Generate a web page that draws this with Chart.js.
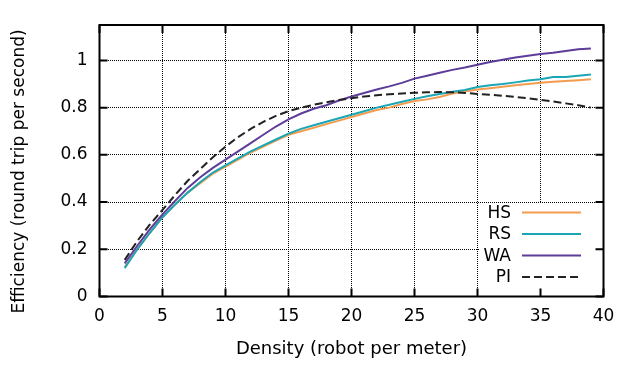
<!DOCTYPE html>
<html>
<head>
<meta charset="utf-8">
<script src="https://cdn.jsdelivr.net/npm/chart.js@4"></script>
<style>
  html, body { margin: 0; padding: 0; background: #fff; }
  #wrap { width: 618px; height: 365px; }
</style>
</head>
<body>
<div id="wrap"><canvas id="chartCanvas" width="618" height="365"></canvas></div>
<script>
const density = [2, 3, 4, 5, 6, 7, 8, 9, 10, 11, 12, 13, 14, 15, 16, 17, 18, 19, 20,
  21, 22, 23, 24, 25, 26, 27, 28, 29, 30, 31, 32, 33, 34, 35, 36, 37, 38, 39];

const hs = [0.125, 0.20, 0.27, 0.335, 0.39, 0.44, 0.48, 0.52, 0.55, 0.58, 0.61, 0.635, 0.66, 0.685,
  0.70, 0.715, 0.73, 0.745, 0.76, 0.775, 0.79, 0.80, 0.815, 0.828, 0.835, 0.845, 0.86, 0.868,
  0.877, 0.882, 0.888, 0.895, 0.90, 0.905, 0.91, 0.913, 0.916, 0.92];
const rs = [0.12, 0.20, 0.27, 0.336, 0.39, 0.44, 0.485, 0.525, 0.555, 0.585, 0.615, 0.64, 0.665, 0.69,
  0.71, 0.725, 0.74, 0.755, 0.77, 0.785, 0.80, 0.812, 0.825, 0.837, 0.848, 0.858, 0.867, 0.875,
  0.887, 0.895, 0.90, 0.907, 0.915, 0.92, 0.93, 0.93, 0.935, 0.94];
const wa = [0.14, 0.215, 0.285, 0.348, 0.405, 0.46, 0.505, 0.545, 0.58, 0.615, 0.65, 0.685, 0.72, 0.75,
  0.775, 0.795, 0.81, 0.83, 0.847, 0.862, 0.877, 0.89, 0.905, 0.923, 0.935, 0.948, 0.96, 0.97,
  0.982, 0.993, 1.003, 1.012, 1.02, 1.027, 1.032, 1.04, 1.047, 1.05];
const pi = [0.155, 0.235, 0.305, 0.367, 0.43, 0.49, 0.54, 0.59, 0.635, 0.675, 0.71, 0.74, 0.765, 0.785,
  0.80, 0.812, 0.823, 0.832, 0.84, 0.847, 0.852, 0.857, 0.86, 0.863, 0.865, 0.866, 0.865, 0.862,
  0.858, 0.855, 0.85, 0.845, 0.84, 0.833, 0.826, 0.818, 0.81, 0.80];

const xTicks = [0, 5, 10, 15, 20, 25, 30, 35, 40];
const xTickLabels = ['0', '5', '10', '15', '20', '25', '30', '35', '40'];
const yTicks = [0, 0.2, 0.4, 0.6, 0.8, 1];
const yTickLabels = ['0', '0.2', '0.4', '0.6', '0.8', '1'];

const FONT = 'DejaVu Sans';
const yTitle = 'Efficiency (round trip per second)';

function pts(ys) {
  return density.map((x, i) => ({ x: x, y: ys[i] }));
}

// key box, drawn over the grid like gnuplot's opaque key
const keyPlugin = {
  id: 'key',
  beforeDatasetsDraw(chart) {
    const ctx = chart.ctx;
    const a = chart.chartArea;
    ctx.save();
    ctx.fillStyle = '#fff';
    ctx.fillRect(479, 203, a.right - 479, a.bottom - 203);
    ctx.restore();
  },
  afterDatasetsDraw(chart) {
    const ctx = chart.ctx;
    ctx.save();
    ctx.font = '17px "' + FONT + '"';
    ctx.textAlign = 'right';
    ctx.textBaseline = 'middle';
    chart.data.datasets.forEach((ds, i) => {
      const y = 212.5 + i * 21.5;
      ctx.fillStyle = '#000';
      ctx.fillText(ds.label, 511, y + 1);
      ctx.strokeStyle = ds.borderColor;
      ctx.lineWidth = 2;
      ctx.setLineDash(ds.borderDash || []);
      ctx.beginPath();
      ctx.moveTo(522, y);
      ctx.lineTo(581, y);
      ctx.stroke();
    });
    ctx.restore();
  },
  afterDraw(chart) {
    const ctx = chart.ctx;
    const a = chart.chartArea;
    const xs = chart.scales.x, ys = chart.scales.y;
    const len = 8;
    ctx.save();
    ctx.strokeStyle = '#000';
    ctx.lineWidth = 2;
    ctx.beginPath();
    xTicks.forEach(v => {
      const px = xs.getPixelForValue(v);
      ctx.moveTo(px, a.bottom); ctx.lineTo(px, a.bottom - len);
      ctx.moveTo(px, a.top); ctx.lineTo(px, a.top + len);
    });
    yTicks.forEach(v => {
      const py = ys.getPixelForValue(v);
      ctx.moveTo(a.left, py); ctx.lineTo(a.left + len, py);
      ctx.moveTo(a.right, py); ctx.lineTo(a.right - len, py);
    });
    ctx.stroke();
    ctx.strokeRect(a.left, a.top, a.right - a.left, a.bottom - a.top);

    // y axis title, a little below the plot centre as in the original
    ctx.translate(19.5, 171.5);
    ctx.rotate(-Math.PI / 2);
    ctx.font = '17px "' + FONT + '"';
    ctx.fillStyle = '#000';
    ctx.textAlign = 'center';
    ctx.textBaseline = 'middle';
    ctx.fillText(yTitle, 0, 0);
    ctx.restore();
  }
};

const ctx = document.getElementById('chartCanvas').getContext('2d');
const chart = new Chart(ctx, {
  type: 'line',
  data: {
    datasets: [
      { label: 'HS', data: pts(hs), borderColor: '#f39c4f', order: 4 },
      { label: 'RS', data: pts(rs), borderColor: '#1ba6b6', order: 3 },
      { label: 'WA', data: pts(wa), borderColor: '#5e3c99', order: 2 },
      { label: 'PI', data: pts(pi), borderColor: '#222222', borderDash: [8, 4], order: 1 }
    ]
  },
  options: {
    responsive: false,
    animation: false,
    events: [],
    layout: { padding: { left: 0, right: 14.5, top: 25, bottom: 0 } },
    elements: {
      line: { borderWidth: 2, tension: 0, fill: false },
      point: { radius: 0 }
    },
    plugins: {
      legend: { display: false },
      tooltip: { enabled: false }
    },
    scales: {
      x: {
        type: 'linear',
        min: 0,
        max: 40,
        afterBuildTicks: s => { s.ticks = xTicks.map(v => ({ value: v })); },
        afterFit: s => { s.height = 68.5; s.paddingLeft = 0; s.paddingRight = 0; },
        ticks: {
          padding: 10,
          color: '#000',
          font: { family: FONT, size: 17 },
          maxRotation: 0,
          callback: v => xTickLabels[xTicks.indexOf(v)]
        },
        grid: { color: '#000', lineWidth: 1, drawTicks: false },
        border: { display: false, dash: [1, 1] },
        title: {
          display: true,
          text: 'Density (robot per meter)',
          color: '#000',
          font: { family: FONT, size: 18 },
          padding: { top: 0, bottom: 5 }
        }
      },
      y: {
        type: 'linear',
        min: 0,
        max: 1.15,
        afterBuildTicks: s => { s.ticks = yTicks.map(v => ({ value: v })); },
        afterFit: s => { s.width = 99.5; s.paddingTop = 0; s.paddingBottom = 0; },
        ticks: {
          padding: 12,
          color: '#000',
          font: { family: FONT, size: 17 },
          callback: v => yTickLabels[yTicks.indexOf(v)]
        },
        grid: { color: '#000', lineWidth: 1, drawTicks: false },
        border: { display: false, dash: [1, 1] }
      }
    }
  },
  plugins: [keyPlugin]
});
</script>
</body>
</html>
